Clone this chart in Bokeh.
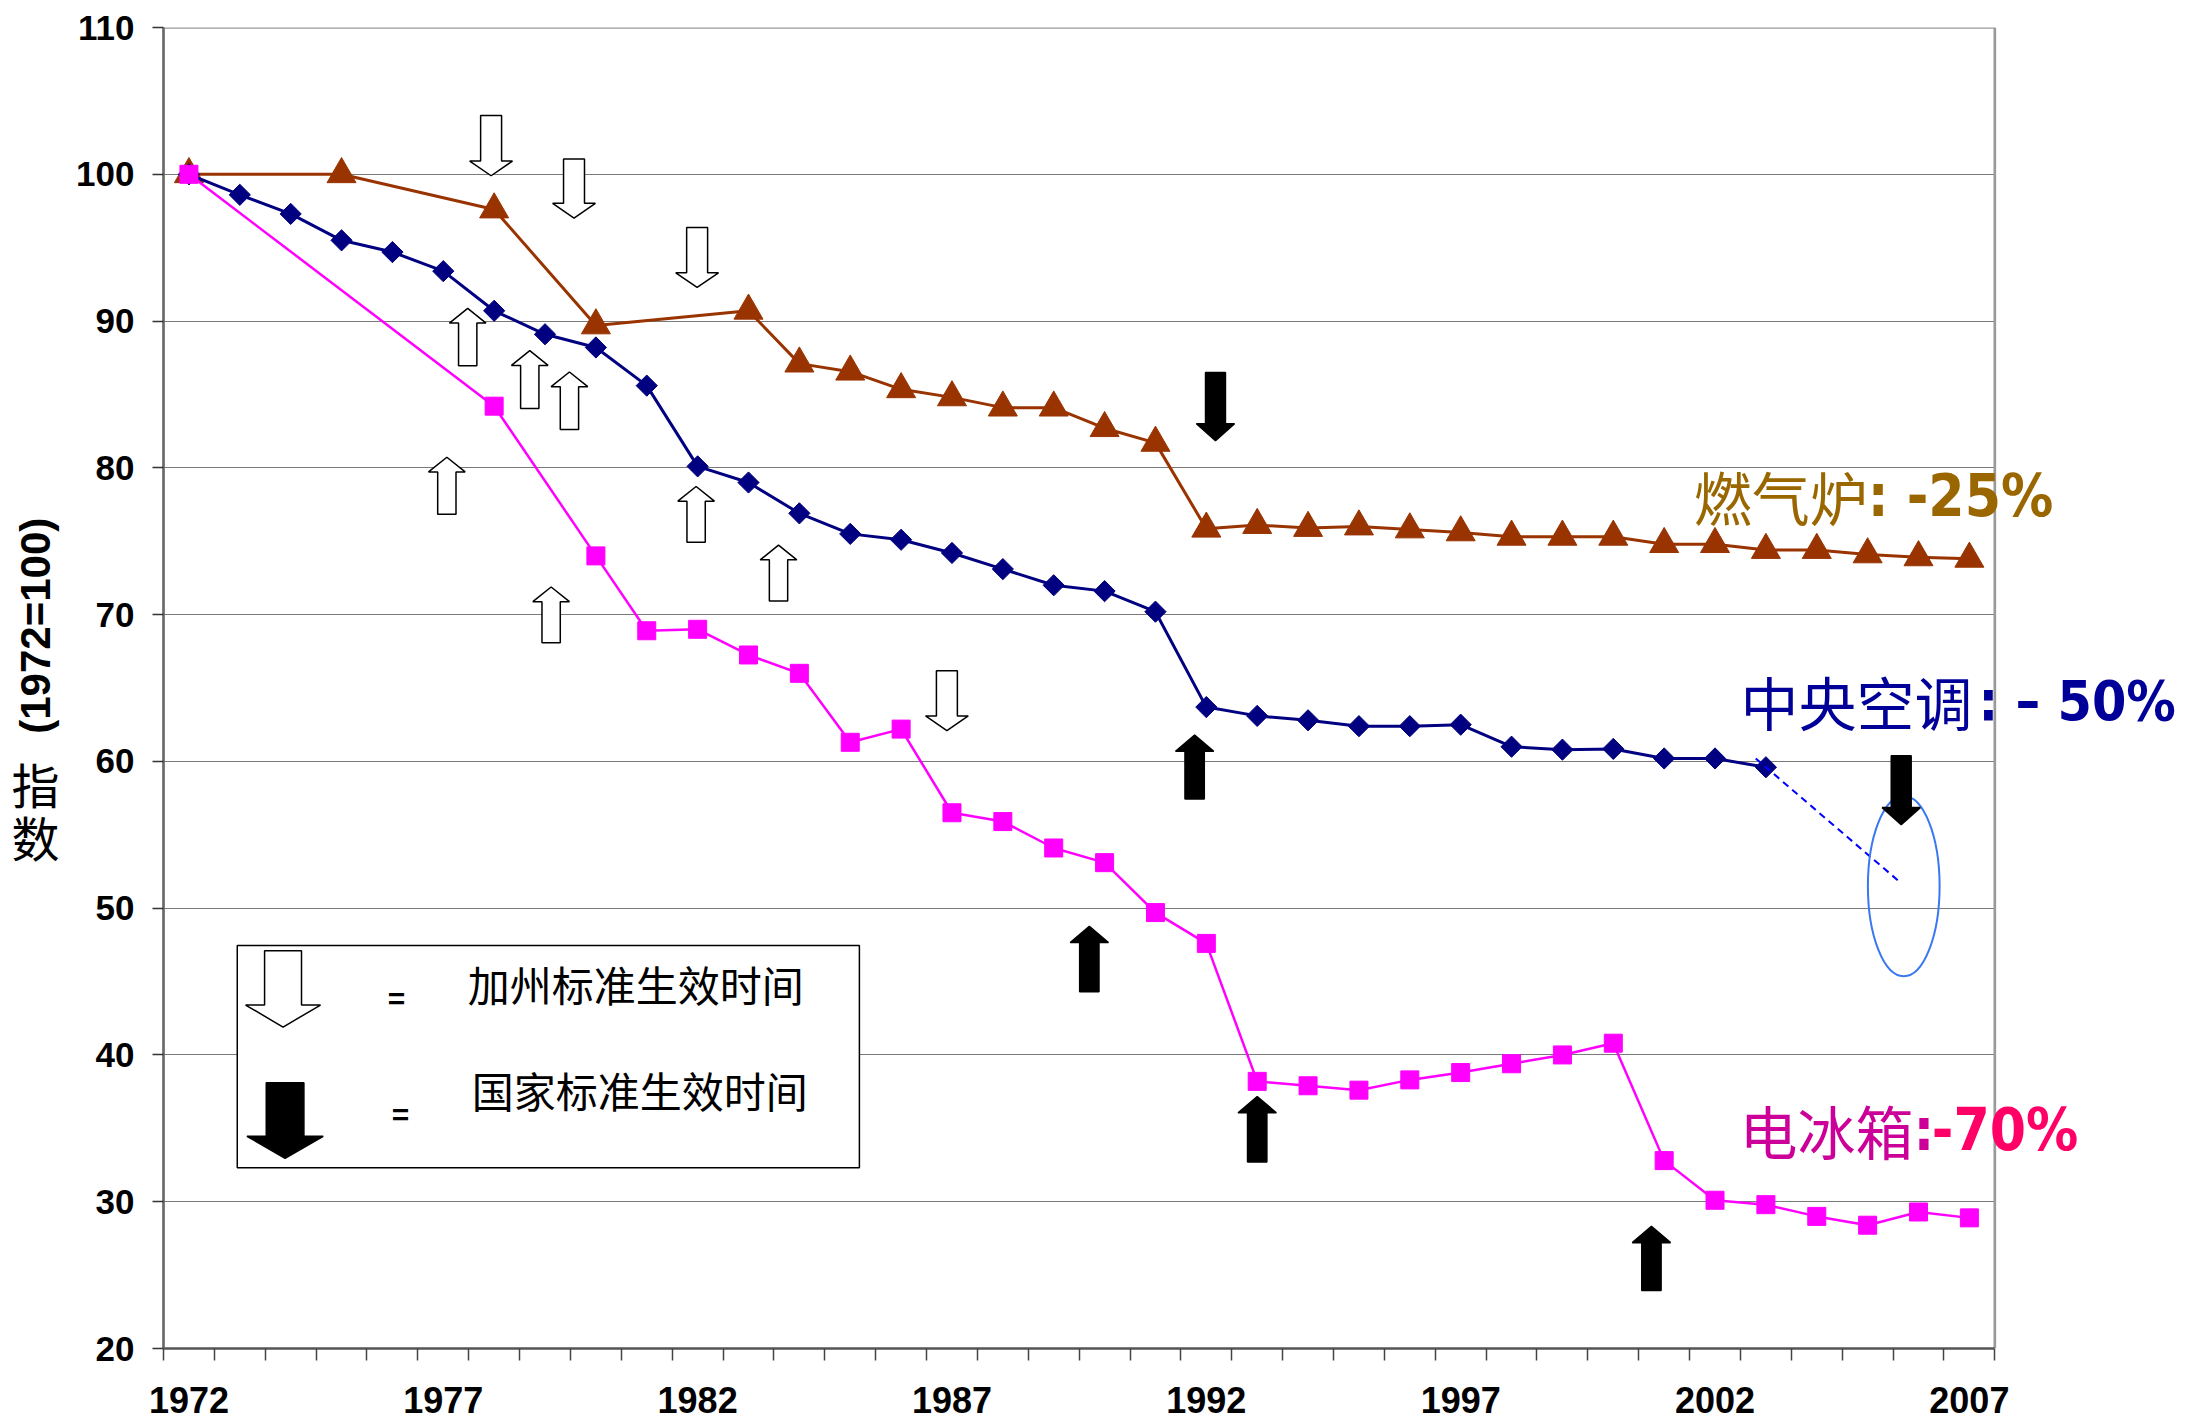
import numpy as np
from bokeh.plotting import figure
from bokeh.layouts import row
from bokeh.models import FixedTicker, Label, Range1d
from bokeh.embed import file_html
from bokeh.resources import INLINE

# ---------------- data ----------------
furnace_years = [1972, 1975, 1978, 1980, 1983, 1984, 1985, 1986, 1987, 1988, 1989, 1990,
                 1991, 1992, 1993, 1994, 1995, 1996, 1997, 1998, 1999, 2000, 2001, 2002,
                 2003, 2004, 2005, 2006, 2007]
furnace_vals = [100.0, 100.0, 97.6, 89.7, 90.7, 87.1, 86.55, 85.35, 84.8, 84.1, 84.1, 82.7,
                81.7, 75.85, 76.1, 75.9, 76.0, 75.8, 75.6, 75.3, 75.3, 75.3, 74.8, 74.8,
                74.4, 74.4, 74.1, 73.9, 73.8]

ac_years = list(range(1972, 2004))
ac_vals = [100.0, 98.6, 97.3, 95.5, 94.7, 93.4, 90.7, 89.1, 88.2, 85.6, 80.1, 79.0,
           76.9, 75.5, 75.1, 74.2, 73.1, 72.0, 71.6, 70.2, 63.7, 63.1, 62.8, 62.4,
           62.4, 62.5, 61.0, 60.8, 60.85, 60.2, 60.2, 59.6]

fridge_years = [1972, 1978, 1980, 1981, 1982, 1983, 1984, 1985, 1986, 1987, 1988, 1989,
                1990, 1991, 1992, 1993, 1994, 1995, 1996, 1997, 1998, 1999, 2000, 2001,
                2002, 2003, 2004, 2005, 2006, 2007]
fridge_vals = [100.0, 84.2, 74.0, 68.9, 69.0, 67.25, 66.0, 61.3, 62.2, 56.5, 55.9, 54.1,
               53.1, 49.7, 47.6, 38.2, 37.9, 37.6, 38.3, 38.8, 39.4, 40.0, 40.8, 32.8,
               30.1, 29.8, 29.0, 28.4, 29.3, 28.9]

# projected central A/C trend (dashed) and highlighted target
proj_years = [2002.8, 2005.66]
proj_vals = [60.2, 51.7]
target_year, target_val = 2005.71, 51.5

x_label_years = [1972, 1977, 1982, 1987, 1992, 1997, 2002, 2007]
y_ticks = [20, 30, 40, 50, 60, 70, 80, 90, 100, 110]

# arrows: (year, tail value, tip value)
ca_down = [(1977.94, 104.0, 99.9), (1979.57, 101.04, 97.02),
           (1981.99, 96.38, 92.29), (1986.9, 66.18, 62.1)]
ca_up = [(1977.48, 86.96, 90.86), (1978.70, 84.05, 87.98), (1979.48, 82.62, 86.53),
         (1977.07, 76.83, 80.72), (1979.12, 68.09, 71.88), (1981.97, 74.93, 78.73),
         (1983.59, 70.93, 74.73)]
nat_down = [(1992.18, 86.5, 81.85), (2005.66, 60.39, 55.69)]
nat_up = [(1991.77, 57.44, 61.8), (1989.70, 44.31, 48.77),
          (1993.0, 32.7, 37.17), (2000.75, 23.95, 28.32)]

legend_box = (1972.95, 1985.18, 47.45, 32.32)  # left, right, top, bottom
legend_ca_arrow = (1973.85, 47.1, 41.9)
legend_nat_arrow = (1973.89, 38.1, 32.96)

# ---------------- layout constants ----------------
X_MIN, X_MAX = 1971.5, 2007.5       # category axis extent
Y_MIN, Y_MAX = 20, 110
LEFT_W = 73
MAIN_W = 2189 - LEFT_W
H = 1422
B_LEFT, B_TOP, B_BOTTOM = 88, 27, 74
PX_PER_YEAR = 50.92
X_END = X_MIN + (MAIN_W - B_LEFT) / PX_PER_YEAR   # frame extends to the right edge

yr = Range1d(Y_MIN, Y_MAX)

# ---------------- main figure ----------------
p = figure(width=MAIN_W, height=H, x_range=(X_MIN, X_END), y_range=yr,
           output_backend="svg", toolbar_location=None,
           min_border_left=B_LEFT, min_border_right=0, min_border_top=B_TOP,
           min_border_bottom=B_BOTTOM)
p.background_fill_color = "white"
p.border_fill_color = "white"
p.outline_line_color = None

p.xgrid.visible = False
p.ygrid.ticker = FixedTicker(ticks=y_ticks)
p.ygrid.grid_line_color = "#7a7a7a"
p.ygrid.grid_line_width = 1.2

# y axis
p.yaxis.ticker = FixedTicker(ticks=y_ticks)
p.yaxis.axis_line_color = "#6a6a6a"
p.yaxis.axis_line_width = 2.7
p.yaxis.major_tick_out = 11
p.yaxis.major_tick_in = 0
p.yaxis.major_tick_line_color = "#333333"
p.yaxis.major_tick_line_width = 1.5
p.yaxis.minor_tick_line_color = None
p.yaxis.major_label_standoff = 18
p.yaxis.major_label_text_font = "Liberation Sans"
p.yaxis.major_label_text_font_style = "bold"
p.yaxis.major_label_text_font_size = "35px"
p.yaxis.major_label_text_color = "black"

# x axis (category boundaries as minor ticks)
p.xaxis.ticker = FixedTicker(ticks=x_label_years,
                             minor_ticks=[X_MIN + i for i in range(37)])
p.xaxis.bounds = (X_MIN, X_MAX)
p.xaxis.axis_line_color = "#555555"
p.xaxis.axis_line_width = 2.5
p.xaxis.major_tick_line_color = None
p.xaxis.major_tick_out = 0
p.xaxis.major_tick_in = 0
p.xaxis.minor_tick_out = 12
p.xaxis.minor_tick_in = 0
p.xaxis.minor_tick_line_color = "#444444"
p.xaxis.minor_tick_line_width = 1.5
p.xaxis.major_label_standoff = 26
p.xaxis.major_label_text_font = "Liberation Sans"
p.xaxis.major_label_text_font_style = "bold"
p.xaxis.major_label_text_font_size = "36px"
p.xaxis.major_label_text_color = "black"

# blank area right of the plot area (where the end labels sit)
p.quad(left=[X_MAX], right=[X_END + 1], bottom=[Y_MIN - 1], top=[Y_MAX + 1],
       fill_color="white", line_color=None)
# plot-area border (top and right)
p.segment(x0=[X_MIN, X_MAX], y0=[Y_MAX, Y_MIN], x1=[X_MAX, X_MAX], y1=[Y_MAX, Y_MAX],
          line_color="#9a9a9a", line_width=2.7)

# ---------------- series ----------------
BROWN = "#993300"
NAVY = "#000080"
MAGENTA = "#FF00FF"

p.line(furnace_years, furnace_vals, line_color=BROWN, line_width=3)
p.scatter(furnace_years, furnace_vals, marker="triangle", size=29,
          fill_color=BROWN, line_color=BROWN)

p.line(ac_years, ac_vals, line_color=NAVY, line_width=3)
p.scatter(ac_years, ac_vals, marker="square", size=15, angle=np.pi / 4,
          fill_color=NAVY, line_color=NAVY)

p.line(fridge_years, fridge_vals, line_color=MAGENTA, line_width=2.5)
p.scatter(fridge_years, fridge_vals, marker="square", size=18,
          fill_color=MAGENTA, line_color=MAGENTA)

p.line(proj_years, proj_vals, line_color="#0000FF", line_width=2, line_dash="7 5")
p.ellipse(x=[target_year], y=[target_val], width=[1.41], height=[12.3],
          fill_color=None, line_color="#3a78f2", line_width=2)


# ---------------- arrows ----------------
def arrow_poly(xc, tail, tip, sw, hw, hl):
    d = 1.0 if tip > tail else -1.0
    hb = tip - d * hl
    xs = [xc - sw, xc + sw, xc + sw, xc + hw, xc, xc - hw, xc - sw]
    ys = [tail, tail, hb, hb, tip, hb, hb]
    return xs, ys


def add_arrows(items, sw, hw, hl, fill, line):
    xs, ys = [], []
    for (xc, tail, tip) in items:
        ax, ay = arrow_poly(xc, tail, tip, sw, hw, hl)
        xs.append(ax)
        ys.append(ay)
    p.patches(xs, ys, fill_color=fill, line_color=line, line_width=1.5)


add_arrows(ca_down, 0.206, 0.42, 1.0, "white", "black")
add_arrows(ca_up, 0.18, 0.36, 1.0, "white", "black")
add_arrows(nat_down, 0.196, 0.375, 1.16, "black", "black")
add_arrows(nat_up, 0.19, 0.376, 1.11, "black", "black")

# ---------------- legend box ----------------
lb = legend_box
p.quad(left=[lb[0]], right=[lb[1]], top=[lb[2]], bottom=[lb[3]],
       fill_color="white", line_color="black", line_width=1.5)
add_arrows([legend_ca_arrow], 0.363, 0.736, 1.5, "white", "black")
add_arrows([legend_nat_arrow], 0.37, 0.75, 1.5, "black", "black")

CJK = "Noto Sans CJK SC"
BOLDF = "DejaVu Sans Condensed"


def lab(fig, x, y, text, font, size, color, style="normal", align="left", angle=0.0):
    fig.add_layout(Label(x=x, y=y, text=text, text_font=font, text_font_size=size,
                         text_color=color, text_font_style=style, text_align=align,
                         text_baseline="middle", angle=angle))


lab(p, 1976.08, 43.84, "=", "Liberation Sans", "30px", "black", "bold", "center")
lab(p, 1976.16, 35.93, "=", "Liberation Sans", "30px", "black", "bold", "center")
lab(p, 1977.48, 44.86, "加州标准生效时间", CJK, "42px", "black")
lab(p, 1977.56, 37.64, "国家标准生效时间", CJK, "42px", "black")

# ---------------- series annotations ----------------
lab(p, 2001.58, 78.1, "燃气炉", CJK, "58px", "#996600")
lab(p, 2005.0, 78.1, ": -25%", BOLDF, "58px", "#996600", "bold")
lab(p, 2002.5, 64.1, "中央空调", CJK, "58px", "#000099")
lab(p, 2007.18, 64.1, ": \u2013 50%", BOLDF, "55px", "#000099", "bold")
lab(p, 2002.48, 34.9, "电冰箱", CJK, "58px", "#CC0099")
lab(p, 2005.9, 34.9, ":", BOLDF, "58px", "#CC0099", "bold")
lab(p, 2006.26, 34.9, "-70%", BOLDF, "58px", "#FF0066", "bold")

# ---------------- y axis title (narrow side figure) ----------------
lf = figure(width=LEFT_W, height=H, x_range=(0, LEFT_W), y_range=yr,
            output_backend="svg", toolbar_location=None,
            x_axis_location=None, y_axis_location=None,
            min_border_left=0, min_border_right=0, min_border_top=B_TOP,
            min_border_bottom=B_BOTTOM)
lf.grid.visible = False
lf.outline_line_color = None
lf.background_fill_color = "white"
lf.border_fill_color = "white"

lab(lf, 35, 69.24, "(1972=100)", "Liberation Sans", "42px", "black", "bold", "center",
    angle=np.pi / 2)
lab(lf, 35, 58.55, "指", CJK, "48px", "black", "normal", "center")
lab(lf, 35, 54.9, "数", CJK, "48px", "black", "normal", "center")

layout = row(lf, p)
open("out.html", "w").write(file_html(layout, INLINE))
